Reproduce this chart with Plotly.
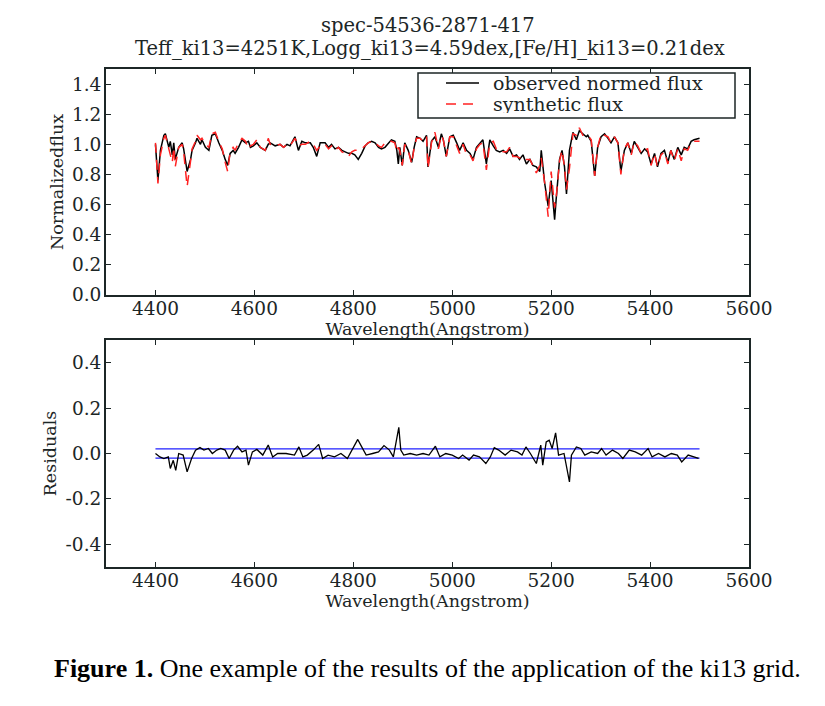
import plotly.graph_objects as go

# spectrum samples (Angstrom, normalised flux)
wavelength = [
    4400, 4405, 4410, 4417, 4420, 4427, 4430, 4434, 4437, 4440, 4447, 4454, 4457, 4461, 4464,
    4471, 4474, 4481, 4484, 4491, 4494, 4501, 4508, 4514, 4521, 4528, 4535, 4541, 4546, 4551,
    4557, 4561, 4568, 4575, 4582, 4588, 4592, 4598, 4605, 4612, 4622, 4628, 4632, 4642, 4652,
    4659, 4666, 4672, 4682, 4689, 4696, 4703, 4713, 4719, 4726, 4733, 4743, 4750, 4756, 4763,
    4770, 4777, 4783, 4790, 4797, 4803, 4810, 4817, 4824, 4830, 4837, 4844, 4851, 4857, 4864,
    4871, 4877, 4884, 4888, 4891, 4894, 4899, 4904, 4911, 4918, 4923, 4928, 4935, 4941, 4948,
    4951, 4958, 4965, 4972, 4978, 4982, 4988, 4995, 5002, 5009, 5015, 5022, 5029, 5036, 5042,
    5049, 5056, 5062, 5069, 5076, 5083, 5089, 5096, 5103, 5110, 5116, 5123, 5130, 5136, 5143,
    5150, 5157, 5163, 5170, 5177, 5180, 5187, 5194, 5200, 5207, 5210, 5217, 5222, 5227, 5231,
    5237, 5244, 5251, 5257, 5264, 5271, 5274, 5281, 5288, 5294, 5301, 5308, 5315, 5321, 5328,
    5335, 5341, 5348, 5355, 5362, 5368, 5375, 5382, 5389, 5395, 5402, 5409, 5415, 5422, 5429,
    5436, 5442, 5449, 5456, 5463, 5469, 5476, 5483, 5489, 5500,
]
observed_flux = [
    1.00, 0.76, 0.96, 1.06, 1.07, 0.98, 1.02, 0.93, 1.01, 0.90, 0.98, 1.01, 0.97, 0.88, 0.82,
    0.90, 0.96, 1.01, 1.04, 1.00, 1.03, 0.98, 0.96, 1.06, 1.07, 1.01, 0.96, 0.90, 0.86, 0.94,
    0.96, 0.94, 0.98, 1.03, 1.01, 1.02, 0.98, 0.99, 1.01, 0.98, 0.96, 1.00, 1.01, 0.99, 1.00,
    0.98, 1.00, 0.99, 1.05, 0.96, 1.02, 1.01, 1.01, 0.98, 0.92, 1.01, 1.01, 0.98, 1.00, 0.97,
    0.98, 0.96, 0.95, 0.94, 0.94, 0.93, 0.90, 0.94, 0.99, 1.01, 1.02, 1.01, 0.98, 0.97, 0.98,
    1.01, 1.03, 1.02, 0.96, 0.87, 0.98, 0.86, 1.01, 0.96, 0.88, 0.98, 1.05, 1.04, 1.02, 1.06,
    0.85, 1.02, 1.05, 0.98, 1.07, 1.03, 0.92, 1.05, 1.06, 1.01, 0.96, 1.01, 0.96, 0.94, 0.90,
    0.98, 1.01, 1.03, 0.87, 1.03, 0.99, 0.96, 0.95, 0.96, 0.94, 0.97, 0.92, 0.93, 0.90, 0.93,
    0.87, 0.90, 0.86, 0.85, 0.82, 0.96, 0.74, 0.59, 0.76, 0.50, 0.63, 0.90, 0.96, 0.85, 0.67,
    0.96, 1.08, 1.03, 1.09, 1.07, 1.05, 1.06, 1.02, 0.79, 0.98, 1.05, 1.07, 1.04, 1.01, 1.05,
    1.01, 0.82, 0.96, 1.01, 0.94, 1.02, 0.98, 0.94, 0.97, 0.95, 0.87, 0.94, 0.85, 0.94, 0.96,
    0.88, 0.96, 0.90, 0.98, 0.93, 0.98, 0.97, 1.02, 1.03, 1.04,
]
synthetic_flux = [
    1.01, 0.74, 0.93, 1.04, 1.06, 0.97, 0.95, 0.88, 0.98, 0.85, 0.98, 1.00, 0.95, 0.80, 0.72,
    0.89, 0.97, 1.02, 1.06, 1.03, 1.04, 1.00, 0.98, 1.07, 1.08, 1.02, 0.97, 0.88, 0.82, 0.95,
    0.98, 0.96, 1.01, 1.04, 1.02, 0.97, 0.99, 1.00, 1.03, 0.98, 0.96, 1.04, 1.00, 0.99, 1.00,
    0.98, 1.00, 0.99, 1.04, 0.99, 1.00, 1.00, 1.02, 1.00, 0.96, 0.99, 1.00, 0.97, 0.99, 0.96,
    0.98, 0.95, 0.94, 0.92, 0.95, 0.96, 0.96, 0.97, 0.99, 1.01, 1.02, 1.01, 0.99, 0.98, 1.01,
    1.02, 1.02, 1.01, 0.95, 0.98, 0.96, 0.86, 1.00, 0.96, 0.87, 0.98, 1.04, 1.04, 1.02, 1.05,
    0.84, 1.01, 1.08, 0.97, 1.06, 1.03, 0.92, 1.05, 1.05, 0.99, 0.94, 1.00, 0.93, 0.93, 0.89,
    0.97, 1.00, 1.01, 0.83, 1.01, 1.02, 0.97, 0.95, 0.95, 0.95, 0.98, 0.92, 0.92, 0.91, 0.92,
    0.90, 0.90, 0.86, 0.81, 0.86, 0.91, 0.74, 0.52, 0.82, 0.58, 0.64, 0.89, 0.96, 0.85, 0.70,
    0.84, 1.07, 1.06, 1.11, 1.06, 1.06, 1.06, 1.03, 0.79, 0.98, 1.07, 1.06, 1.05, 1.01, 1.05,
    1.01, 0.80, 0.97, 1.01, 0.93, 1.02, 0.99, 0.94, 0.96, 0.97, 0.86, 0.94, 0.85, 0.93, 0.95,
    0.87, 0.96, 0.89, 0.97, 0.89, 0.97, 0.96, 1.01, 1.02, 1.02,
]

# residual samples
residual_wavelength = [
    4400, 4409, 4417, 4426, 4430, 4436, 4441, 4447, 4456, 4464, 4473, 4481, 4490, 4498, 4507,
    4515, 4524, 4532, 4541, 4549, 4558, 4566, 4575, 4583, 4588, 4596, 4605, 4617, 4628, 4637,
    4647, 4664, 4681, 4690, 4698, 4707, 4719, 4730, 4738, 4749, 4762, 4775, 4788, 4800, 4809,
    4817, 4826, 4839, 4851, 4862, 4873, 4881, 4892, 4896, 4902, 4915, 4928, 4941, 4953, 4966,
    4975, 4987, 5000, 5013, 5021, 5034, 5043, 5055, 5068, 5077, 5085, 5094, 5107, 5119, 5132,
    5141, 5149, 5158, 5170, 5179, 5183, 5190, 5196, 5202, 5209, 5215, 5226, 5237, 5241, 5251,
    5260, 5268, 5281, 5294, 5302, 5311, 5324, 5336, 5345, 5358, 5370, 5383, 5396, 5404, 5417,
    5430, 5443, 5455, 5464, 5477, 5489, 5498,
]
residuals = [
    0.000, -0.015, -0.022, -0.015, -0.066, -0.030, -0.074, 0.000, -0.007, -0.081, -0.022, 0.015,
    0.026, 0.015, 0.022, 0.000, 0.015, 0.022, 0.015, -0.022, 0.015, 0.032, 0.007, 0.015, -0.051,
    0.007, 0.018, -0.007, 0.037, -0.015, 0.000, 0.000, -0.007, 0.029, -0.015, -0.007, 0.015,
    0.040, -0.022, -0.007, -0.015, 0.000, -0.022, 0.029, 0.062, 0.029, -0.007, 0.000, 0.007,
    0.035, 0.015, -0.015, 0.115, 0.015, -0.007, 0.000, -0.007, 0.000, -0.007, 0.032, -0.015,
    0.000, -0.007, -0.022, -0.007, -0.029, -0.007, -0.015, -0.044, -0.015, 0.026, 0.015, -0.007,
    0.015, 0.007, -0.007, 0.029, 0.000, -0.044, 0.037, -0.051, 0.051, 0.059, 0.022, 0.091,
    -0.007, 0.000, -0.125, -0.007, 0.029, 0.022, -0.007, 0.007, 0.000, 0.022, -0.007, 0.015,
    0.000, -0.022, 0.015, 0.007, -0.007, 0.022, -0.015, 0.000, -0.015, 0.000, -0.007, -0.037,
    -0.007, -0.015, -0.022,
]
band_span = [4400, 5500]
band_levels = [0.02, -0.02]

flux_ticks = [0.0, 0.2, 0.4, 0.6, 0.8, 1.0, 1.2, 1.4]
resid_ticks = [-0.4, -0.2, 0.0, 0.2, 0.4]
resid_labels = ["-0.4", "-0.2", "0.0", "0.2", "0.4"]

title_lines = [
    "spec-54536-2871-417",
    "Teff_ki13=4251K,Logg_ki13=4.59dex,[Fe/H]_ki13=0.21dex",
]
legend_labels = ["observed normed flux", "synthetic flux"]
caption = "<b>Figure 1.</b> One example of the results of the application of the ki13 grid."

W, H = 825, 706
PAGE_OFFSET = 8  # the page body margin pushes the figure 8px right and down
SERIF = "DejaVu Serif"
INK = "#1c2626"
OBS_COLOR = "black"
SYN_COLOR = "#ff2222"
SYN_DASH = "10px,7px"


def px_x(v):
    return (v - PAGE_OFFSET) / W


def px_y(v):
    return 1 - (v - PAGE_OFFSET) / H


fig = go.Figure()
fig.add_trace(go.Scatter(
    x=wavelength, y=observed_flux, mode="lines", name=legend_labels[0],
    line=dict(color=OBS_COLOR, width=1.5), xaxis="x", yaxis="y",
))
fig.add_trace(go.Scatter(
    x=wavelength, y=synthetic_flux, mode="lines", name=legend_labels[1],
    line=dict(color=SYN_COLOR, width=1.5, dash=SYN_DASH), xaxis="x", yaxis="y",
))
for level in band_levels:
    fig.add_trace(go.Scatter(
        x=band_span, y=[level, level], mode="lines",
        line=dict(color="#2020ff", width=1.3), xaxis="x2", yaxis="y2",
    ))
fig.add_trace(go.Scatter(
    x=residual_wavelength, y=residuals, mode="lines",
    line=dict(color="black", width=1.3), xaxis="x2", yaxis="y2",
))

axis_common = dict(
    showline=True, linecolor=INK, linewidth=2, mirror="ticks",
    ticks="inside", ticklen=5, tickwidth=1, tickcolor=INK,
    showgrid=False, zeroline=False,
    tickfont=dict(family=SERIF, size=18.5, color=INK),
)
x_common = dict(axis_common, range=[4300, 5600], tick0=4400, dtick=200,
                ticklabelstandoff=-4,
                title=dict(text="Wavelength(Angstrom)", standoff=0,
                           font=dict(family=SERIF, size=17.5, color=INK)))
y_common = dict(axis_common, ticklabelstandoff=-1)

fig.update_layout(
    width=W, height=H,
    margin=dict(l=0, r=0, t=0, b=0, autoexpand=False),
    paper_bgcolor="white", plot_bgcolor="white",
    showlegend=False,
    xaxis=dict(x_common, domain=[px_x(106), px_x(749)], anchor="y"),
    yaxis=dict(y_common, domain=[px_y(295), px_y(69)], anchor="x",
               range=[0, 1.5], tickvals=flux_ticks, tickformat=".1f",
               title=dict(text="Normalizedflux", standoff=4,
                          font=dict(family=SERIF, size=17.5, color=INK))),
    xaxis2=dict(x_common, domain=[px_x(106), px_x(749)], anchor="y2"),
    yaxis2=dict(y_common, domain=[px_y(567), px_y(340)], anchor="x2",
                range=[-0.5, 0.5], tickvals=resid_ticks, ticktext=resid_labels,
                title=dict(text="Residuals", standoff=4,
                           font=dict(family=SERIF, size=17.5, color=INK))),
)

# matplotlib-style legend box, drawn by hand so its size matches
fig.add_shape(type="rect", xref="paper", yref="paper",
              x0=px_x(418), x1=px_x(735), y0=px_y(118), y1=px_y(73),
              line=dict(color=INK, width=1.5), fillcolor="white", layer="above")
legend_rows = [(83, OBS_COLOR, "solid"), (104, SYN_COLOR, SYN_DASH)]
for label, (row_y, color, dash) in zip(legend_labels, legend_rows):
    fig.add_shape(type="line", xref="paper", yref="paper",
                  x0=px_x(446), x1=px_x(479), y0=px_y(row_y), y1=px_y(row_y),
                  line=dict(color=color, width=1.5, dash=dash), layer="above")
    fig.add_annotation(text=label, x=px_x(491), y=px_y(row_y), xref="paper", yref="paper",
                       xanchor="left", yanchor="middle", showarrow=False, height=18,
                       font=dict(family=SERIF, size=19, color=INK))

fig.add_annotation(text=title_lines[0], x=px_x(428), y=px_y(25), xref="paper", yref="paper",
                   xanchor="center", yanchor="middle", showarrow=False,
                   font=dict(family=SERIF, size=19.5, color=INK))
fig.add_annotation(text=title_lines[1], x=px_x(430), y=px_y(49), xref="paper", yref="paper",
                   xanchor="center", yanchor="middle", showarrow=False,
                   font=dict(family=SERIF, size=19.5, color=INK))
fig.add_annotation(text=caption, x=px_x(427), y=px_y(668), xref="paper", yref="paper",
                   xanchor="center", yanchor="middle", showarrow=False,
                   font=dict(family="Liberation Serif", size=26, color="black"))

fig.write_html("out.html")
